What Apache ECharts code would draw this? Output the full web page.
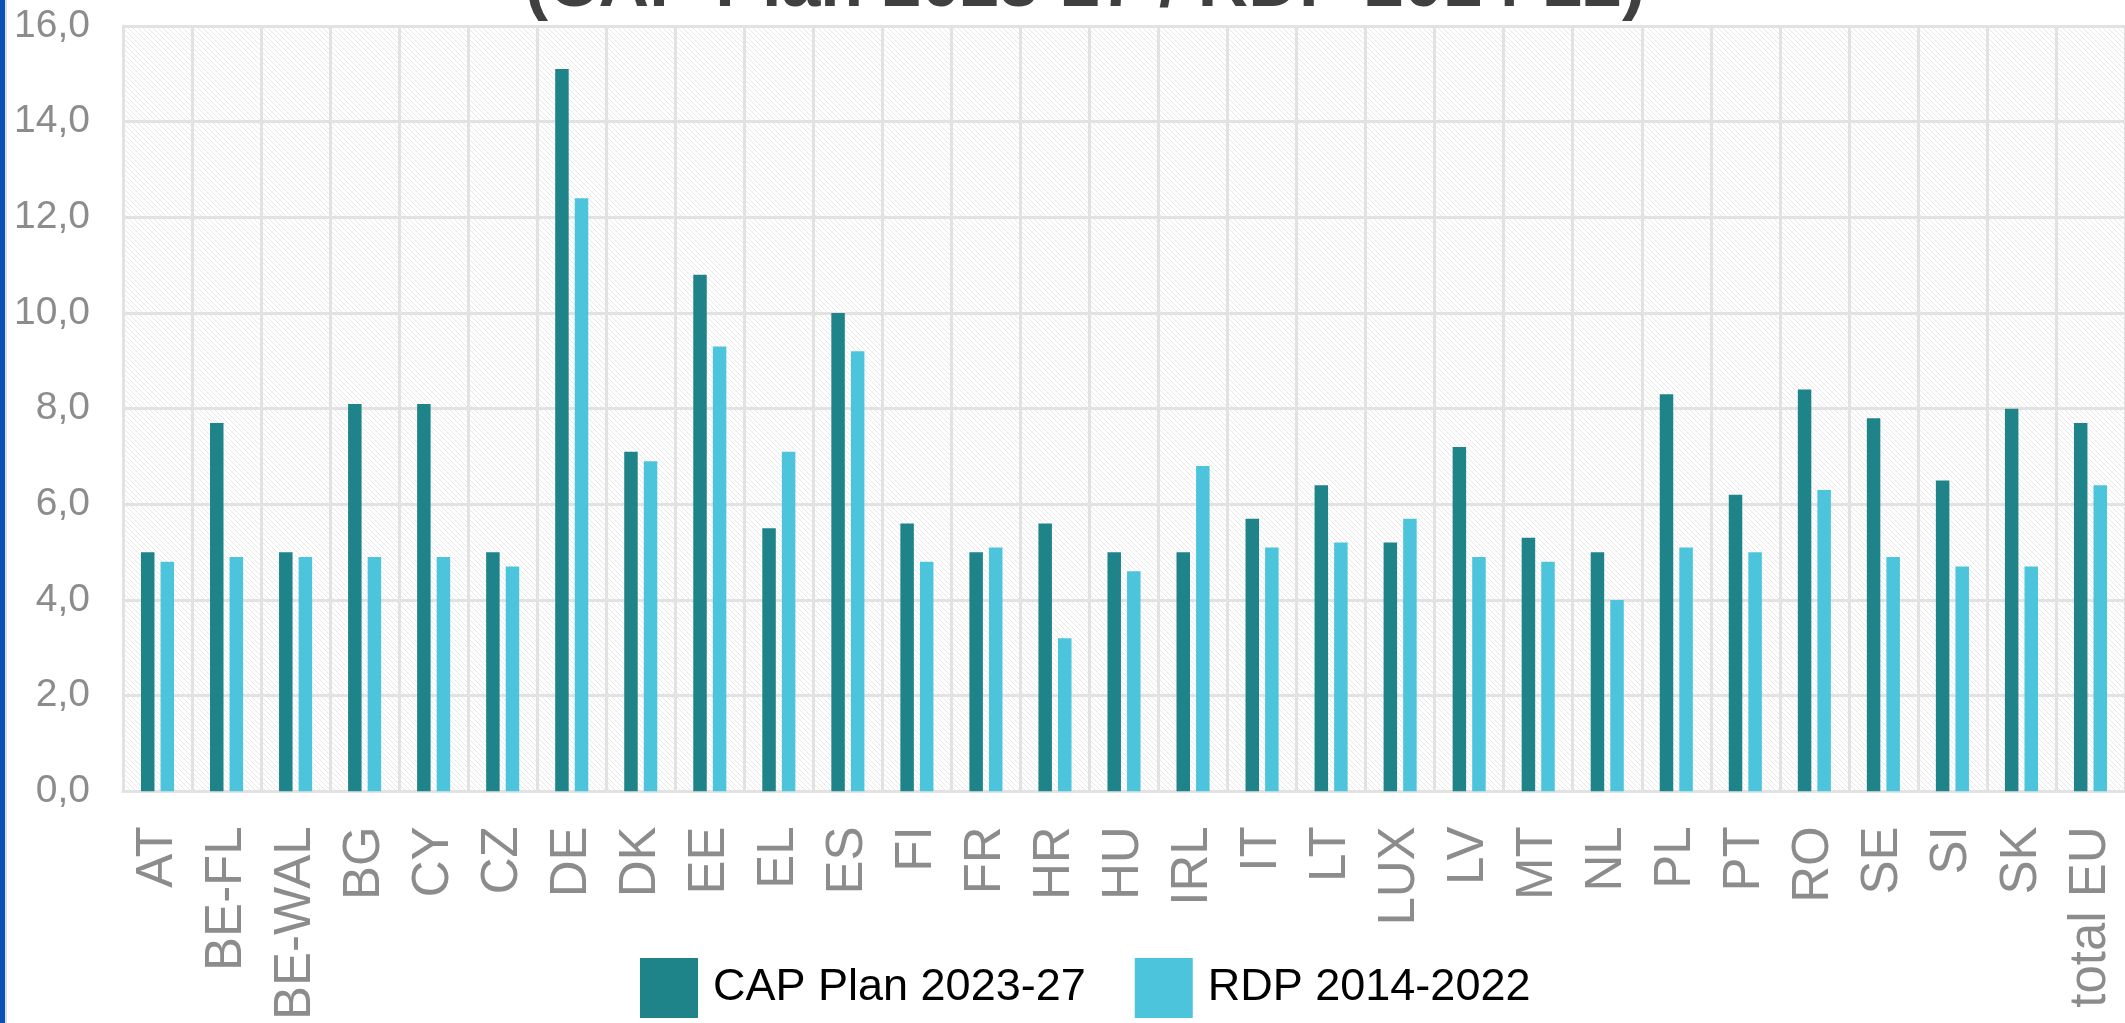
<!DOCTYPE html>
<html>
<head>
<meta charset="utf-8">
<title>CAP Plan 2023-27 / RDP 2014-22</title>
<script src="https://cdn.jsdelivr.net/npm/echarts@6/dist/echarts.min.js"></script>
<style>
  html, body { margin: 0; padding: 0; background: #fff; }
  #chart { width: 2125px; height: 1023px; }
</style>
</head>
<body>
<div id="chart"></div>
<script>
// categories
var countries = ['AT', 'BE-FL', 'BE-WAL', 'BG', 'CY', 'CZ', 'DE', 'DK', 'EE', 'EL', 'ES', 'FI', 'FR', 'HR', 'HU',
  'IRL', 'IT', 'LT', 'LUX', 'LV', 'MT', 'NL', 'PL', 'PT', 'RO', 'SE', 'SI', 'SK', 'total EU']
// CAP Plan 2023-27
var capPlan = [5.0, 7.7, 5.0, 8.1, 8.1, 5.0, 15.1, 7.1, 10.8, 5.5, 10.0, 5.6, 5.0, 5.6, 5.0,
  5.0, 5.7, 6.4, 5.2, 7.2, 5.3, 5.0, 8.3, 6.2, 8.4, 7.8, 6.5, 8.0, 7.7]
// RDP 2014-2022
var rdp = [4.8, 4.9, 4.9, 4.9, 4.9, 4.7, 12.4, 6.9, 9.3, 7.1, 9.2, 4.8, 5.1, 3.2, 4.6,
  6.8, 5.1, 5.2, 5.7, 4.9, 4.8, 4.0, 5.1, 5.0, 6.3, 4.9, 4.7, 4.7, 6.4]
var seriesNames = ['CAP Plan 2023-27', 'RDP 2014-2022']
var yTicks = [0, 2, 4, 6, 8, 10, 12, 14, 16]

var FONT = '"Liberation Sans", Arial, sans-serif'
var GRID_GRAY = '#e2e2e2'

// 斜线纹理背景
function hatchPattern () {
  var c = document.createElement('canvas')
  c.width = 5
  c.height = 5
  var ctx = c.getContext('2d')
  ctx.fillStyle = '#ffffff'
  ctx.fillRect(0, 0, 5, 5)
  ctx.strokeStyle = '#e8e8e8'
  ctx.lineWidth = 1
  ctx.beginPath()
  ctx.moveTo(-1, -1); ctx.lineTo(6, 6)
  ctx.moveTo(-1, 4); ctx.lineTo(1, 6)
  ctx.moveTo(4, -1); ctx.lineTo(6, 1)
  ctx.stroke()
  return c
}

var myChart = echarts.init(document.getElementById('chart'), null, { renderer: 'canvas' })
var option = {
  animation: false,
  backgroundColor: '#fff',
  color: ['#1e8489', '#4bc4dc'],
  textStyle: { fontFamily: FONT },
  grid: {
    show: true,
    left: 123,
    top: 26,
    width: 2004,
    bottom: 230,
    borderWidth: 0,
    backgroundColor: { image: hatchPattern(), repeat: 'repeat' }
  },
  legend: {
    left: 640,
    top: 958,
    padding: 0,
    itemWidth: 58,
    itemHeight: 60,
    itemGap: 49,
    icon: 'rect',
    textStyle: {
      color: '#000',
      fontSize: 45,
      fontFamily: FONT,
      padding: [0, 0, 0, 10]
    },
    data: seriesNames
  },
  graphic: [
    // 左侧蓝色边条
    { type: 'rect', left: 0, top: 0, shape: { width: 5, height: 1023 }, style: { fill: '#0b50b4' } },
    { type: 'rect', left: 5, top: 0, shape: { width: 2, height: 1023 }, style: { fill: '#d8dde6' } },
    // 被裁掉的标题下半部
    {
      type: 'text',
      x: 1085,
      y: -13,
      style: {
        text: '(CAP Plan 2023-27 / RDP 2014-22)',
        font: 'bold 70px ' + FONT,
        fill: '#404040',
        align: 'center',
        verticalAlign: 'middle'
      }
    }
  ],
  xAxis: {
    type: 'category',
    data: countries,
    axisTick: { show: false },
    axisLine: { lineStyle: { color: GRID_GRAY, width: 3 } },
    splitLine: { show: true, lineStyle: { color: GRID_GRAY, width: 3 } },
    axisLabel: {
      rotate: 90,
      interval: 0,
      margin: 35,
      color: '#8c8c8c',
      fontSize: 51,
      fontFamily: FONT
    }
  },
  yAxis: {
    type: 'value',
    min: yTicks[0],
    max: yTicks[yTicks.length - 1],
    interval: 2,
    axisTick: { show: false },
    axisLine: { show: true, lineStyle: { color: GRID_GRAY, width: 3 } },
    splitLine: { lineStyle: { color: GRID_GRAY, width: 3 } },
    axisLabel: {
      margin: 33,
      color: '#8c8c8c',
      fontSize: 39,
      fontFamily: FONT,
      formatter: function (v) {
        return v.toFixed(1).replace('.', ',')
      }
    }
  },
  series: [
    {
      name: seriesNames[0],
      type: 'bar',
      barWidth: 13.5,
      barGap: '45%',
      data: capPlan
    },
    {
      name: seriesNames[1],
      type: 'bar',
      barWidth: 13.5,
      barGap: '45%',
      data: rdp
    }
  ]
}
myChart.setOption(option)
window.addEventListener('resize', function () {
  myChart.resize()
})
</script>
</body>
</html>
